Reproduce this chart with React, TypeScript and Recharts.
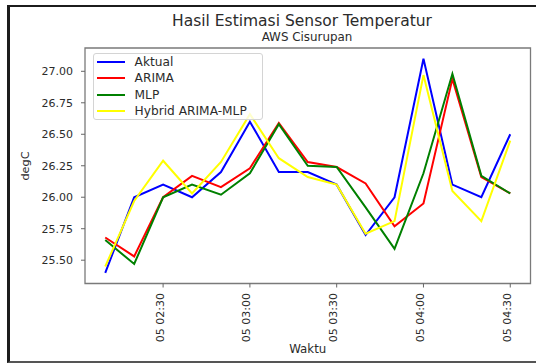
import { LineChart, Line, XAxis, YAxis, Legend, ReferenceArea } from 'recharts';

// sampling times (day 05), 10-minute steps
const times = ['02:10', '02:20', '02:30', '02:40', '02:50', '03:00', '03:10', '03:20', '03:30', '03:40', '03:50', '04:00', '04:10', '04:20', '04:30'];

const aktual = [25.4, 26.0, 26.1, 26.0, 26.2, 26.6, 26.2, 26.2, 26.1, 25.7, 26.0, 27.1, 26.1, 26.0, 26.5];
const arima = [25.68, 25.53, 26.0, 26.17, 26.08, 26.23, 26.59, 26.28, 26.24, 26.11, 25.77, 25.95, 26.94, 26.16, 26.03];
const mlp = [25.66, 25.47, 26.0, 26.1, 26.02, 26.19, 26.58, 26.25, 26.24, 25.92, 25.59, 26.19, 26.98, 26.17, 26.03];
const hybrid = [25.45, 25.97, 26.29, 26.03, 26.28, 26.66, 26.31, 26.16, 26.1, 25.71, 25.81, 26.97, 26.05, 25.81, 26.45];

const xTickLabels = ['02:30', '03:00', '03:30', '04:00', '04:30'];
const yTicks = [25.5, 25.75, 26.0, 26.25, 26.5, 26.75, 27.0];

const FONT = '"DejaVu Sans", sans-serif';
const TEXT = '#2b2b2b';

const toMin = (t: string) => {
  const [h, m] = t.split(':').map(Number);
  return h * 60 + m;
};
const fmtMin = (v: number) => {
  const h = Math.floor(v / 60);
  const m = v % 60;
  return `${String(h).padStart(2, '0')}:${String(m).padStart(2, '0')}`;
};

const data = times.map((t, i) => ({
  t: toMin(t),
  aktual: aktual[i],
  arima: arima[i],
  mlp: mlp[i],
  hybrid: hybrid[i],
}));

const series = [
  { key: 'aktual', name: 'Aktual', color: '#0000ff' },
  { key: 'arima', name: 'ARIMA', color: '#ff0000' },
  { key: 'mlp', name: 'MLP', color: '#008000' },
  { key: 'hybrid', name: 'Hybrid ARIMA-MLP', color: '#ffff00' },
];

// matplotlib-style 5% padding around the data
const xMin = toMin(times[0]);
const xMax = toMin(times[times.length - 1]);
const xPad = (xMax - xMin) * 0.05;
const allY = [...aktual, ...arima, ...mlp, ...hybrid];
const yMin = Math.min(...allY);
const yMax = Math.max(...allY);
const yPad = (yMax - yMin) * 0.05;
const xDomain = [xMin - xPad, xMax + xPad];
const yDomain = [yMin - yPad, yMax + yPad];

function XTick({ x, payload }: any) {
  const px = x + 0.5;
  const py = 293;
  return (
    <text
      x={px}
      y={py}
      transform={`rotate(-90 ${px} ${py})`}
      textAnchor="end"
      fontSize={11}
      fontFamily={FONT}
      fill={TEXT}
    >
      {`05 ${fmtMin(payload.value)}`}
    </text>
  );
}

function LegendBox() {
  return (
    <div
      style={{
        width: 170,
        height: 67,
        boxSizing: 'border-box',
        border: '1px solid #d4d4d4',
        borderRadius: 3,
        background: 'rgba(255,255,255,0.8)',
        fontFamily: FONT,
        fontSize: 12.2,
        color: TEXT,
      }}
    >
      {series.map((s) => (
        <div key={s.key} style={{ height: 16.3, display: 'flex', alignItems: 'center' }}>
          <span style={{ width: 27.6, height: 2, background: s.color, marginLeft: 3, flex: 'none' }} />
          <span style={{ marginLeft: 10, whiteSpace: 'nowrap', lineHeight: '16px' }}>{s.name}</span>
        </div>
      ))}
    </div>
  );
}

export default function App() {
  return (
    <div
      style={{
        position: 'absolute',
        left: 0,
        top: 0,
        width: 536,
        height: 363,
        background: '#ffffff',
        overflow: 'hidden',
      }}
    >
      <div
        style={{
          position: 'absolute',
          left: 7,
          top: 5,
          width: 540,
          height: 358,
          boxSizing: 'border-box',
          borderLeft: '3px solid #1c1c1c',
          borderTop: '2px solid #1c1c1c',
          borderBottom: '2px solid #555555',
        }}
      />
      <LineChart width={536} height={363} data={data} margin={{ top: 48, right: 5.5, left: 0, bottom: 0 }}>
        <XAxis
          dataKey="t"
          type="number"
          domain={xDomain}
          ticks={xTickLabels.map(toMin)}
          tick={<XTick />}
          tickSize={4}
          tickLine={{ stroke: '#666666' }}
          axisLine={false}
          height={79.5}
          allowDataOverflow
        />
        <YAxis
          type="number"
          domain={yDomain}
          ticks={yTicks}
          tickFormatter={(v: number) => v.toFixed(2)}
          tick={{ fontSize: 11, fontFamily: FONT, fill: TEXT }}
          tickSize={4}
          tickMargin={8}
          tickLine={{ stroke: '#666666' }}
          axisLine={false}
          width={85}
          allowDataOverflow
        />
        <ReferenceArea
          x1={xDomain[0]}
          x2={xDomain[1]}
          y1={yDomain[0]}
          y2={yDomain[1]}
          fill="none"
          stroke="#7a7a7a"
          strokeWidth={1.3}
          ifOverflow="visible"
        />
        {series.map((s) => (
          <Line
            key={s.key}
            type="linear"
            dataKey={s.key}
            name={s.name}
            stroke={s.color}
            strokeWidth={2}
            dot={false}
            isAnimationActive={false}
          />
        ))}
        <Legend
          layout="horizontal"
          verticalAlign="middle"
          align="center"
          content={<LegendBox />}
          wrapperStyle={{ left: 93, top: 53, width: 170, height: 67, right: 'auto', bottom: 'auto' }}
        />
      </LineChart>
      <svg
        width={536}
        height={363}
        style={{ position: 'absolute', left: 0, top: 0, pointerEvents: 'none' }}
      >
        <text x={302} y={26.4} textAnchor="middle" fontSize={15.5} fontFamily={FONT} fill={TEXT}>
          Hasil Estimasi Sensor Temperatur
        </text>
        <text x={307} y={41.2} textAnchor="middle" fontSize={11.9} fontFamily={FONT} fill={TEXT}>
          AWS Cisurupan
        </text>
        <text x={307.7} y={352.5} textAnchor="middle" fontSize={11.8} fontFamily={FONT} fill={TEXT}>
          Waktu
        </text>
        <text
          x={29}
          y={166}
          transform="rotate(-90 29 166)"
          textAnchor="middle"
          fontSize={11.3}
          fontFamily={FONT}
          fill={TEXT}
        >
          degC
        </text>
      </svg>
    </div>
  );
}
